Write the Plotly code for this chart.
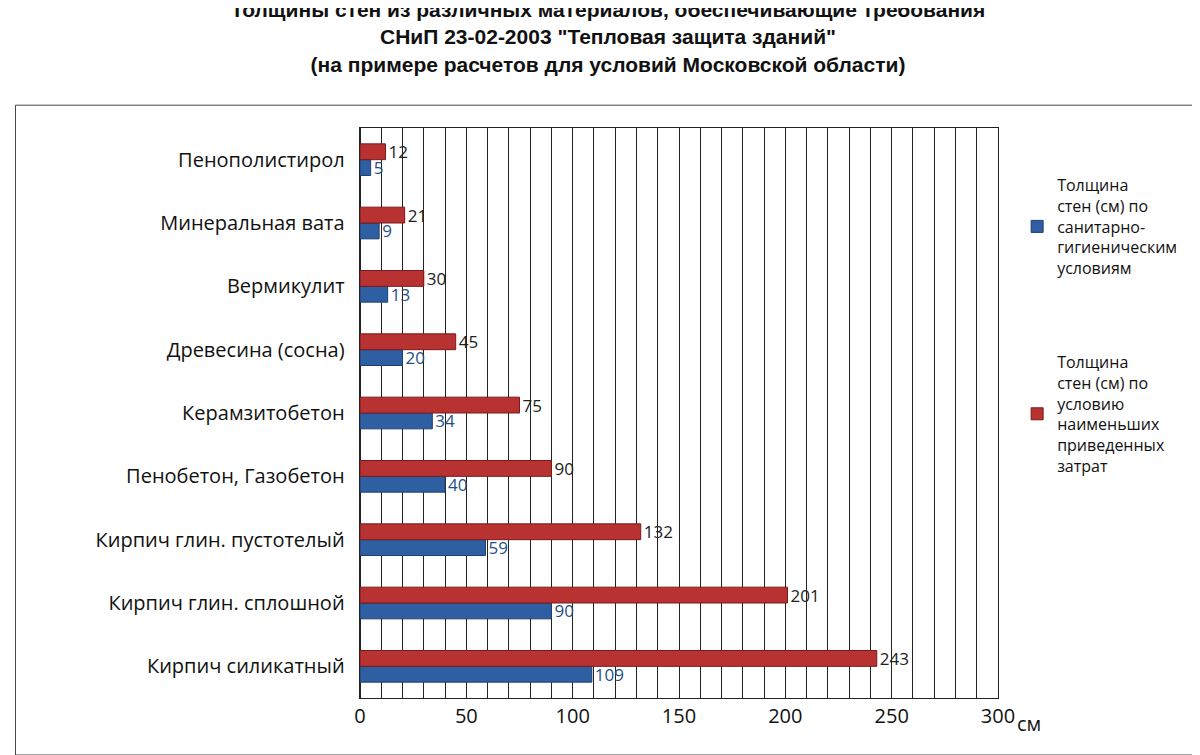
import plotly.graph_objects as go

categories = ["Кирпич силикатный", "Кирпич глин. сплошной", "Кирпич глин. пустотелый",
              "Пенобетон, Газобетон", "Керамзитобетон", "Древесина (сосна)",
              "Вермикулит", "Минеральная вата", "Пенополистирол"]
red_vals = [243, 201, 132, 90, 75, 45, 30, 21, 12]
blue_vals = [109, 90, 59, 40, 34, 20, 13, 9, 5]
red_name = "Толщина<br>стен (см) по<br>условию<br>наименьших<br>приведенных<br>затрат"
blue_name = "Толщина<br>стен (см) по<br>санитарно-<br>гигиеническим<br>условиям"
xticks = [0, 50, 100, 150, 200, 250, 300]

fig = go.Figure()
fig.add_trace(go.Bar(y=categories, x=blue_vals, orientation="h", name=blue_name, legendgroup="b",
                     marker=dict(color="#2e5fa3", line=dict(color="#1f3f70", width=1)),
                     text=blue_vals, textposition="outside", constraintext="none",
                     textfont=dict(color="#1f4f8a", size=17, family="Open Sans"), cliponaxis=False))
fig.add_trace(go.Bar(y=categories, x=red_vals, orientation="h", name=red_name, legendgroup="r",
                     marker=dict(color="#b83232", line=dict(color="#7a1a1a", width=1)),
                     text=red_vals, textposition="outside", constraintext="none",
                     textfont=dict(color="#222222", size=17, family="Open Sans"), cliponaxis=False))

fig.update_layout(
    width=1200, height=755, barmode="group", bargap=0.5, bargroupgap=0.0,
    paper_bgcolor="white", plot_bgcolor="white",
    margin=dict(l=352, r=210, t=120, b=65),
    title=dict(text="<b>Толщины стен из различных материалов, обеспечивающие требования<br>"
                    "СНиП 23-02-2003 \"Тепловая защита зданий\"<br>"
                    "(на примере расчетов для условий Московской области)</b>",
               x=0.5, xanchor="center", y=0.988, yanchor="top",
               font=dict(family="Liberation Sans, Arial", size=21, color="#111")),
    font=dict(family="Open Sans", color="#111"),
    xaxis=dict(range=[0, 300], tickvals=xticks, ticktext=[str(v) for v in xticks],
               showgrid=True, gridcolor="#222", gridwidth=1,
               tickfont=dict(size=20), zeroline=True, zerolinecolor="#222",
               showline=True, linecolor="#222", mirror=True),
    yaxis=dict(tickfont=dict(size=20), showline=True, linecolor="#222", mirror=True,
               ticksuffix="  "),
    legend=dict(x=1.03, y=0.93, xanchor="left", yanchor="top", traceorder="reversed+grouped",
                font=dict(size=16), tracegroupgap=70),
    shapes=[dict(type="rect", xref="paper", yref="paper", x0=-0.54, x1=1.32, y0=-0.10, y1=1.04,
                 line=dict(color="#444", width=1))],
)
fig.update_xaxes(minor=dict(tickvals=list(range(0, 301, 10)), showgrid=True, gridcolor="#222", gridwidth=1, ticks=""))
fig.add_annotation(text="см", x=1.07, xref="paper", y=-0.018, yref="paper", yanchor="top",
                   showarrow=False, font=dict(size=20))
fig.write_html("out.html")
